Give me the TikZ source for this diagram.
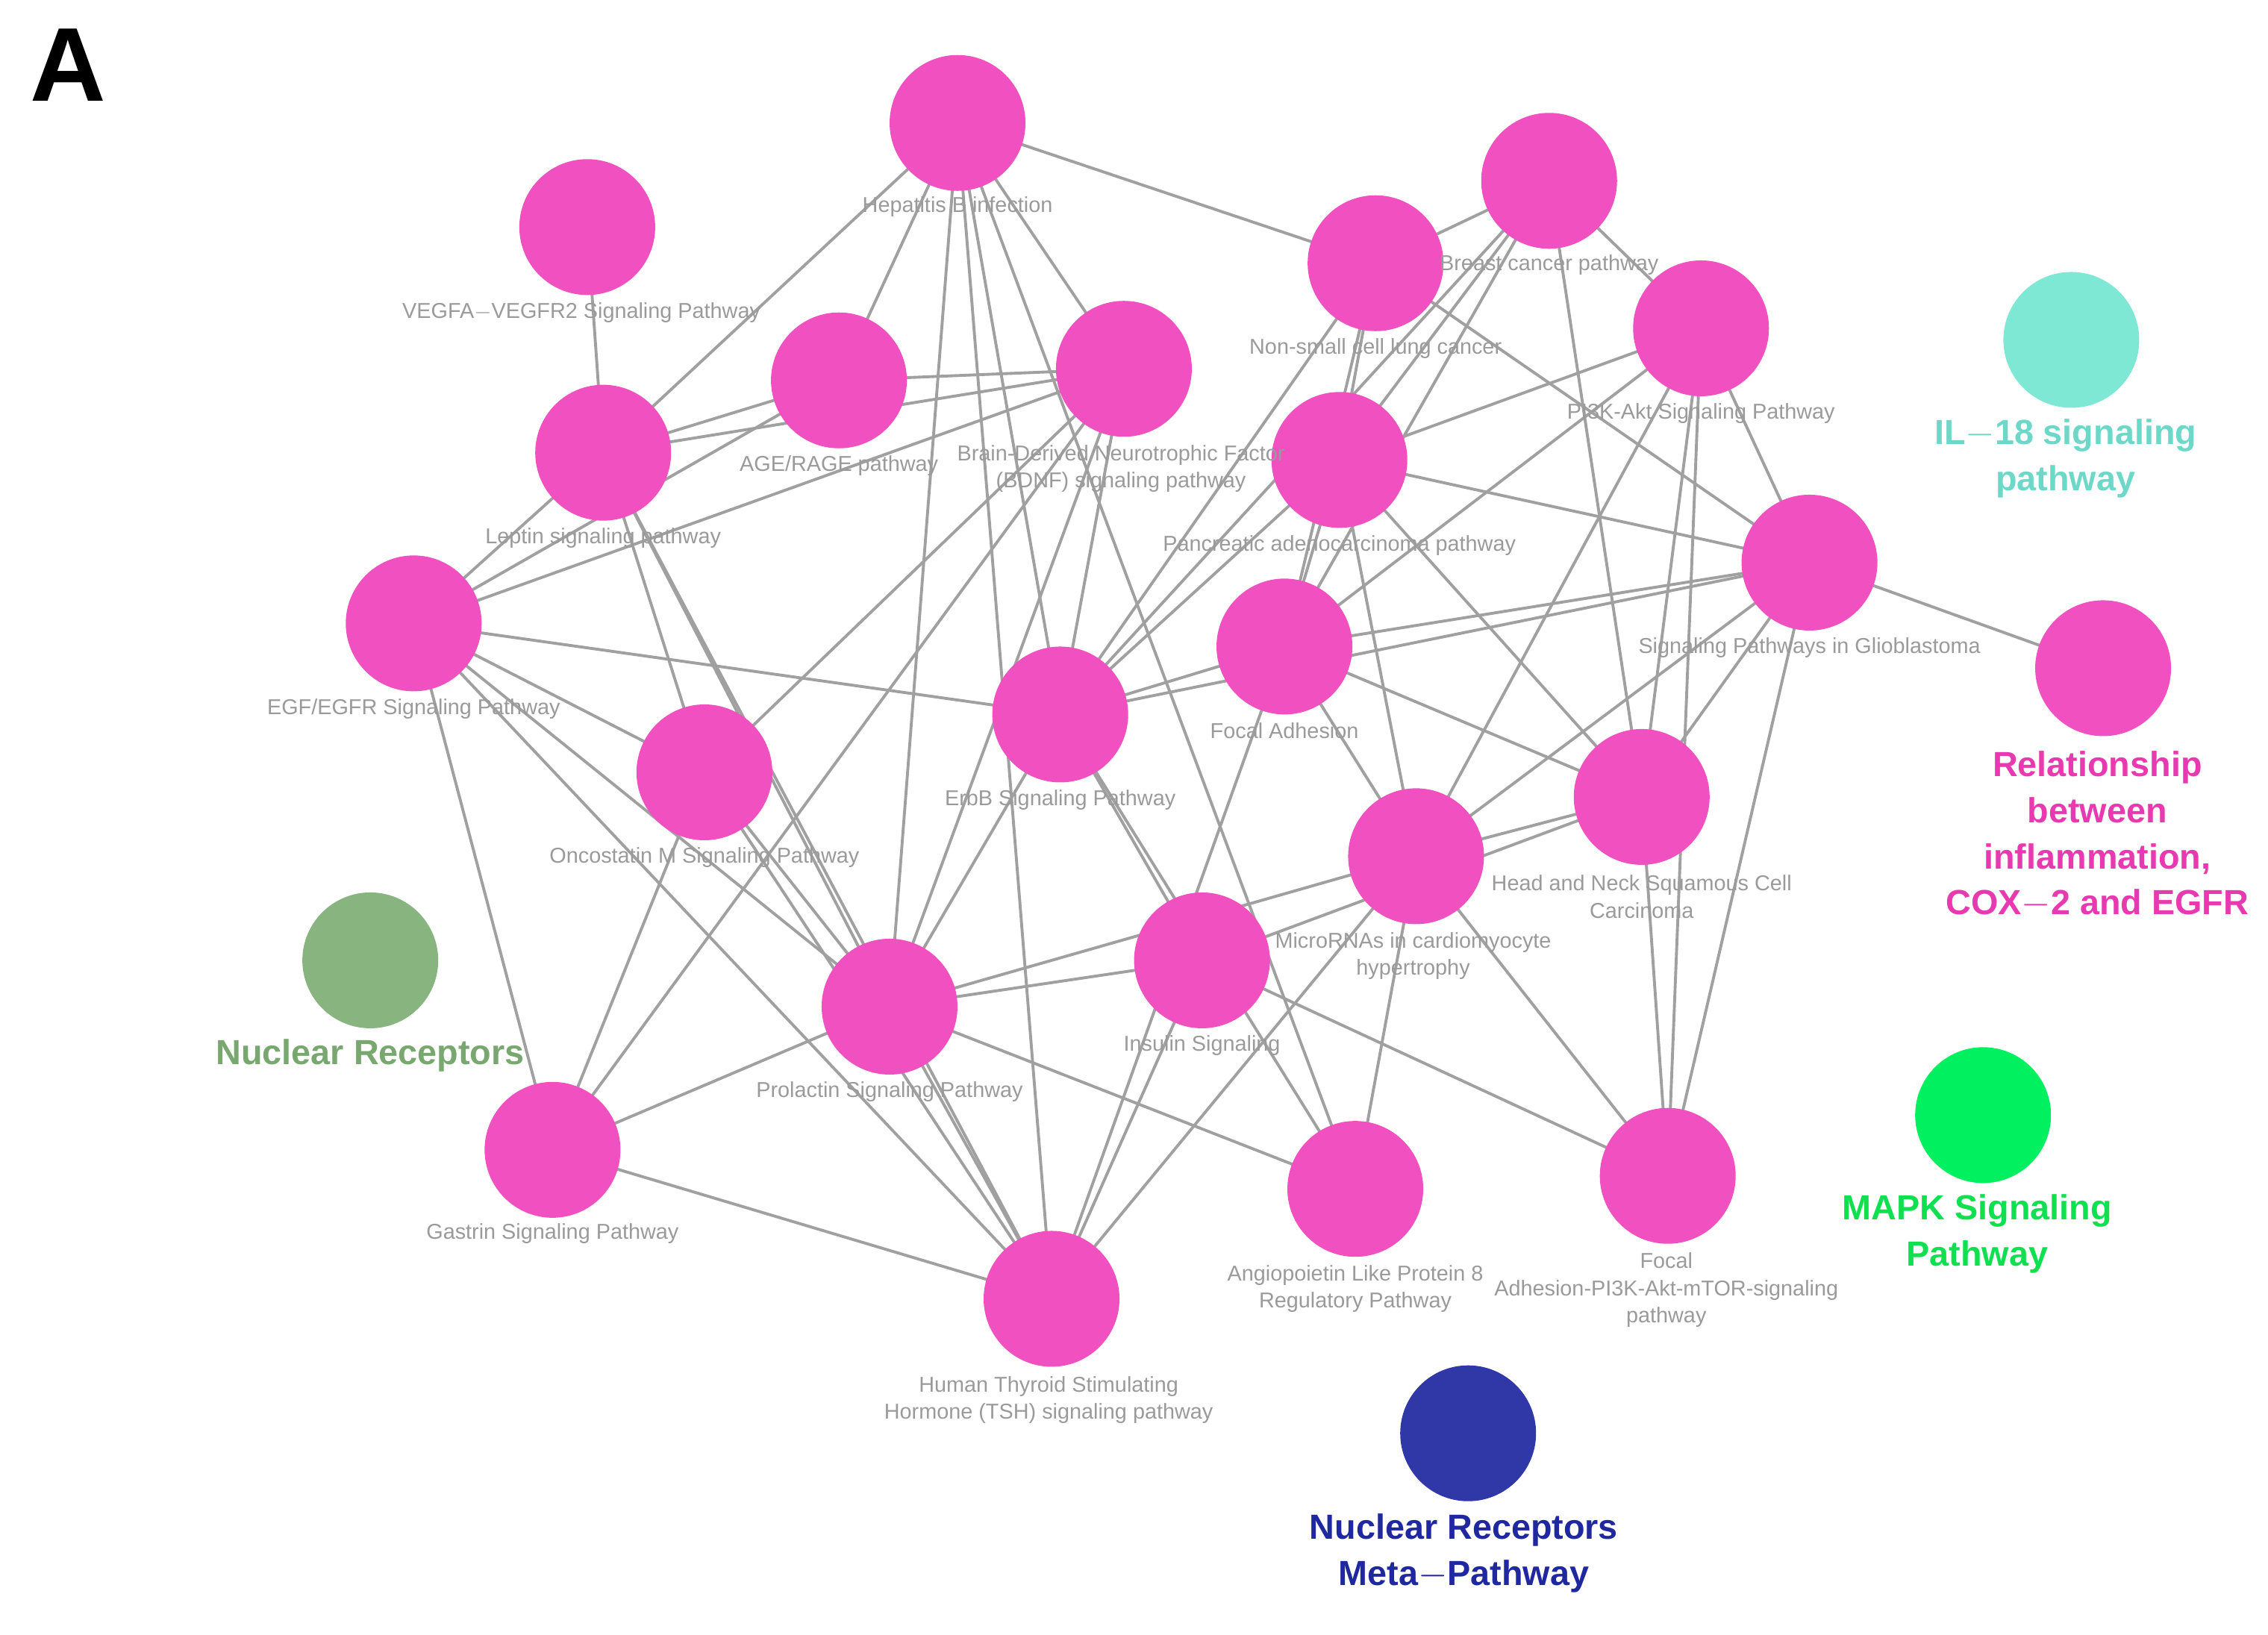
\documentclass[tikz,border=0pt]{standalone}
\usepackage{fontspec}
\setmainfont{Liberation Sans}
\usetikzlibrary{backgrounds}
\definecolor{pk}{HTML}{F050C0}
\definecolor{lbl}{HTML}{9A9A9A}
\definecolor{ed}{HTML}{A0A0A0}
\definecolor{teal}{HTML}{7FE8D4}
\definecolor{tealt}{HTML}{6ED8C8}
\definecolor{grn}{HTML}{88B480}
\definecolor{grnt}{HTML}{78A870}
\definecolor{lime}{HTML}{00F060}
\definecolor{limet}{HTML}{10E050}
\definecolor{nav}{HTML}{3038A8}
\definecolor{navt}{HTML}{2028A0}
\definecolor{pkt}{HTML}{E83AB0}
\begin{document}
\begin{tikzpicture}[x=0.01938cm,y=-0.01938cm,
  n/.style={circle,minimum size=1.82cm,inner sep=0,fill=#1},
  n/.default=pk,
  lb/.style={text=lbl,font=\fontsize{8.2}{10.4}\selectfont,align=center,inner sep=0},
  big/.style={font=\bfseries\fontsize{13.3}{17.6}\selectfont,align=center,inner sep=0},
  e/.style={draw=ed,line width=1.1pt}]
\useasboundingbox (0,0) rectangle (1568,1130);
\node[font=\bfseries\fontsize{40}{40}\selectfont] (A) at (47,45) {A};
\node[n] (hep) at (662,85) {};
\node[n] (veg) at (406,157) {};
\node[n] (bre) at (1071,125) {};
\node[n] (nsc) at (951,182) {};
\node[n] (pi3) at (1176,227) {};
\node[n=teal] (il) at (1432,235) {};
\node[n] (age) at (580,263) {};
\node[n] (bdn) at (777,255) {};
\node[n] (lep) at (417,313) {};
\node[n] (pan) at (926,318) {};
\node[n] (gli) at (1251,389) {};
\node[n] (rel) at (1454,462) {};
\node[n] (egf) at (286,431) {};
\node[n] (foc) at (888,447) {};
\node[n] (erb) at (733,494) {};
\node[n] (onc) at (487,534) {};
\node[n] (hns) at (1135,551) {};
\node[n] (mir) at (979,592) {};
\node[n=grn] (nuc) at (256,664) {};
\node[n] (ins) at (831,664) {};
\node[n] (pro) at (615,696) {};
\node[n] (gas) at (382,795) {};
\node[n] (ang) at (937,822) {};
\node[n] (fpi) at (1153,813) {};
\node[n=lime] (mapk) at (1371,771) {};
\node[n] (tsh) at (727,898) {};
\node[n=nav] (nrm) at (1015,991) {};
\begin{pgfonlayer}{background}
\foreach \a/\b in {hep/lep,hep/age,hep/nsc,hep/bdn,hep/erb,hep/pro,hep/tsh,hep/ang,
 veg/lep,lep/age,lep/bdn,lep/egf,lep/onc,lep/pro,lep/tsh,
 age/egf,age/bdn,bdn/egf,bdn/erb,bdn/gas,bdn/onc,bdn/pro,
 egf/erb,egf/onc,egf/gas,egf/pro,egf/tsh,
 nsc/bre,nsc/erb,nsc/foc,nsc/pan,nsc/gli,
 bre/pi3,bre/erb,bre/pan,bre/hns,bre/foc,
 pi3/pan,pi3/gli,pi3/hns,pi3/fpi,pi3/mir,pi3/foc,
 pan/gli,pan/erb,pan/foc,pan/hns,pan/mir,
 gli/rel,gli/erb,gli/foc,gli/mir,gli/hns,gli/fpi,
 foc/erb,foc/hns,foc/mir,foc/tsh,erb/pro,erb/ang,erb/ins,
 onc/pro,onc/gas,onc/tsh,hns/mir,hns/ins,hns/fpi,
 mir/pro,mir/ang,mir/fpi,mir/tsh,ins/pro,ins/tsh,ins/fpi,
 pro/gas,pro/ang,pro/tsh,gas/tsh}
 \draw[e] (\a.center) -- (\b.center);
\end{pgfonlayer}
\node[lb] (l1) at (662,143) {Hepatitis B infection};
\node[lb] (l2) at (402,216) {VEGFA$-$VEGFR2 Signaling Pathway};
\node[lb] (l3) at (1071,183) {Breast cancer pathway};
\node[lb] (l4) at (951,241) {Non-small cell lung cancer};
\node[lb] (l5) at (1176,286) {PI3K-Akt Signaling Pathway};
\node[lb] (l6) at (580,322) {AGE/RAGE pathway};
\node[lb] (l7) at (775,324) {Brain-Derived Neurotrophic Factor\\(BDNF) signaling pathway};
\node[lb] (l8) at (417,372) {Leptin signaling pathway};
\node[lb] (l9) at (926,377) {Pancreatic adenocarcinoma pathway};
\node[lb] (l10) at (1251,448) {Signaling Pathways in Glioblastoma};
\node[lb] (l11) at (286,490) {EGF/EGFR Signaling Pathway};
\node[lb] (l12) at (888,505) {Focal Adhesion};
\node[lb] (l13) at (733,553) {ErbB Signaling Pathway};
\node[lb] (l14) at (487,593) {Oncostatin M Signaling Pathway};
\node[lb] (l15) at (1135,620) {Head and Neck Squamous Cell\\Carcinoma};
\node[lb] (l16) at (977,661) {MicroRNAs in cardiomyocyte\\hypertrophy};
\node[lb] (l17) at (831,723) {Insulin Signaling};
\node[lb] (l18) at (615,755) {Prolactin Signaling Pathway};
\node[lb] (l19) at (382,853) {Gastrin Signaling Pathway};
\node[lb] (l20) at (937,891) {Angiopoietin Like Protein 8\\Regulatory Pathway};
\node[lb] (l21) at (1152,892) {Focal\\Adhesion-PI3K-Akt-mTOR-signaling\\pathway};
\node[lb] (l22) at (725,968) {Human Thyroid Stimulating\\Hormone (TSH) signaling pathway};
\node[big,text=tealt] (b1) at (1428,317) {IL$-$18 signaling\\pathway};
\node[big,text=pkt] (b2) at (1450,577) {Relationship\\between\\inflammation,\\COX$-$2 and EGFR};
\node[big,text=grnt] (b3) at (256,730) {Nuclear Receptors};
\node[big,text=limet] (b4) at (1367,853) {MAPK Signaling\\Pathway};
\node[big,text=navt] (b5) at (1012,1074) {Nuclear Receptors\\Meta$-$Pathway};
\end{tikzpicture}
\end{document}
